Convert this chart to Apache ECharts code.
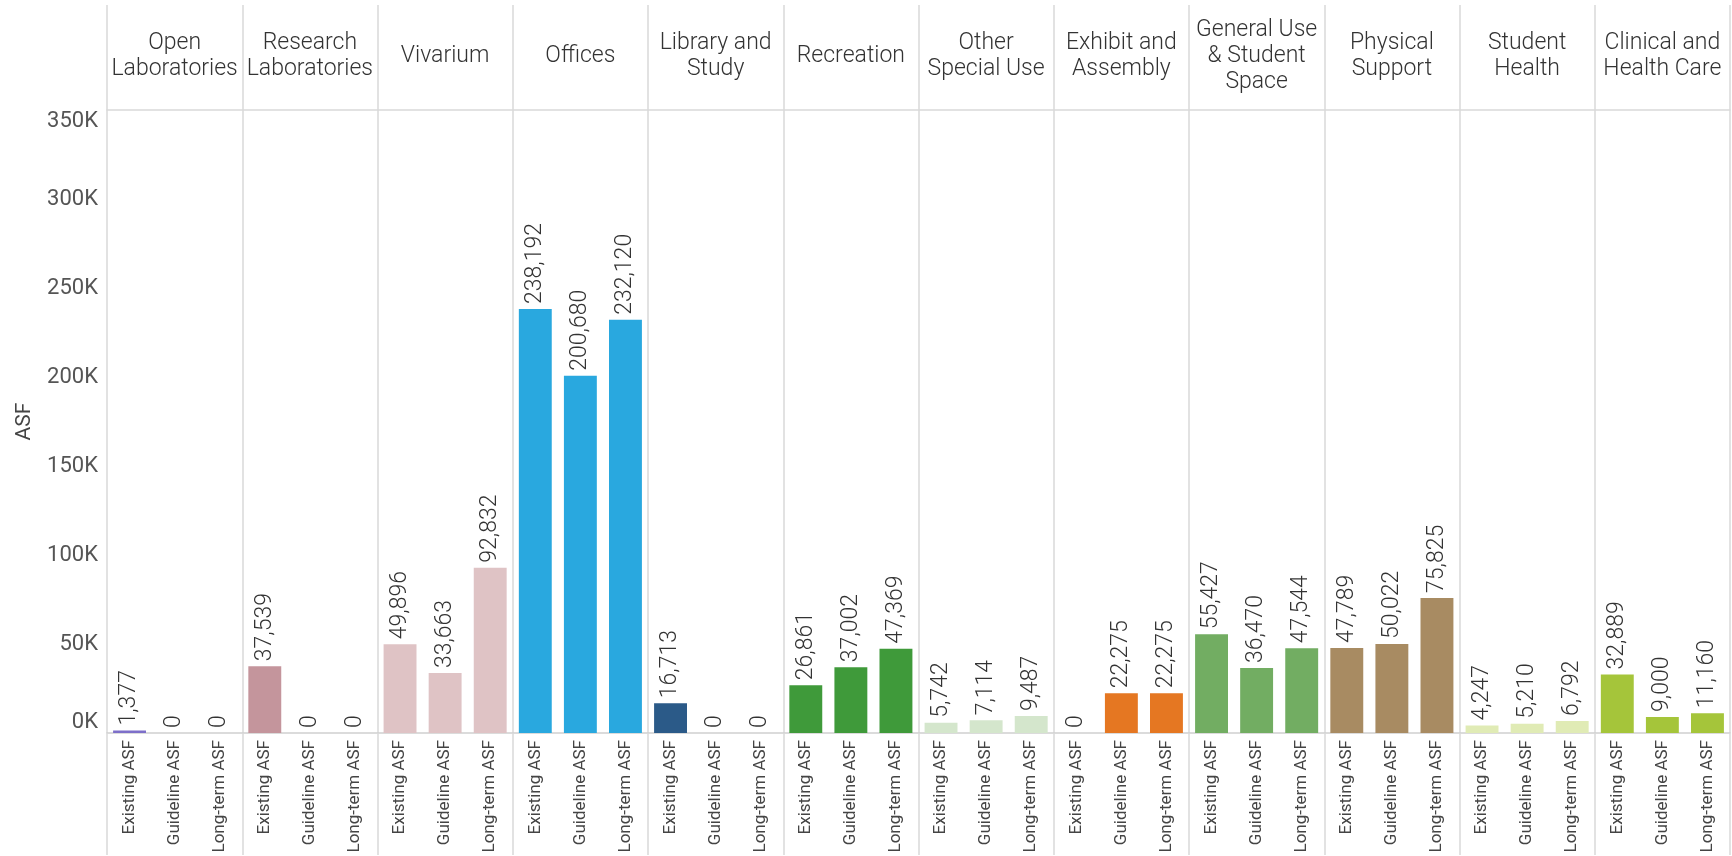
<!DOCTYPE html>
<html>
<head>
<meta charset="utf-8">
<script src="https://cdn.jsdelivr.net/npm/echarts@6/dist/echarts.min.js"></script>
<style>
html,body{margin:0;padding:0;background:#fff;}
#chart{width:1732px;height:856px;}
</style>
</head>
<body>
<div id="chart"></div>
<script>
const groups = ['Open\nLaboratories','Research\nLaboratories','Vivarium','Offices','Library and\nStudy','Recreation','Other\nSpecial Use','Exhibit and\nAssembly','General Use\n& Student\nSpace','Physical\nSupport','Student\nHealth','Clinical and\nHealth Care'];
const measures = ['Existing ASF','Guideline ASF','Long-term ASF'];
const existing  = [1377, 37539, 49896, 238192, 16713, 26861, 5742, 0, 55427, 47789, 4247, 32889];
const guideline = [0, 0, 33663, 200680, 0, 37002, 7114, 22275, 36470, 50022, 5210, 9000];
const longterm  = [0, 0, 92832, 232120, 0, 47369, 9487, 22275, 47544, 75825, 6792, 11160];
const groupColors = ['#7d6fc9','#c4959c','#dfc3c5','#29a8df','#2b5a88','#3f9a3a','#d4e6cc','#e57722','#72ad62','#a88b62','#e0ebb5','#a5c53a'];
const yTicks = {min: 0, max: 350000, interval: 50000};

const xLabels = [];
const values = [];
groups.forEach((g, i) => {
  [existing, guideline, longterm].forEach((arr, j) => {
    xLabels.push(measures[j]);
    values.push({value: arr[i], itemStyle: {color: groupColors[i]}});
  });
});

const lineColor = '#d9d9d9';
const font = 'Roboto';

const chart = echarts.init(document.getElementById('chart'));
chart.setOption({
  backgroundColor: '#fff',
  animation: false,
  textStyle: {fontFamily: font},
  grid: [
    {left: 107, right: 2, top: 5, height: 105},
    {left: 107, right: 2, top: 110, height: 623}
  ],
  xAxis: [
    {
      gridIndex: 0, type: 'category', data: groups, position: 'bottom',
      axisLine: {show: true, lineStyle: {color: lineColor, width: 1.5}},
      axisTick: {show: false},
      splitLine: {show: true, interval: 0, lineStyle: {color: lineColor, width: 1.5}},
      axisLabel: {interval: 0, margin: -54, verticalAlign: 'middle', fontSize: 23, fontWeight: 300, lineHeight: 26, color: '#333', fontFamily: font}
    },
    {
      gridIndex: 1, type: 'category', data: xLabels, position: 'bottom',
      axisLine: {show: true, lineStyle: {color: '#cfcfcf', width: 1.5}},
      axisTick: {show: false},
      axisLabel: {interval: 0, rotate: 90, margin: 7, fontSize: 17, color: '#444', fontFamily: font}
    },
    {
      gridIndex: 1, type: 'category', data: groups, position: 'bottom',
      axisLine: {show: false},
      axisTick: {show: true, interval: 0, length: 122, lineStyle: {color: lineColor, width: 1.5}},
      axisLabel: {show: false},
      splitLine: {show: true, interval: 0, lineStyle: {color: lineColor, width: 1.5}}
    }
  ],
  yAxis: [
    {gridIndex: 0, type: 'value', show: false, min: 0, max: 1},
    {
      gridIndex: 1, type: 'value', min: yTicks.min, max: yTicks.max, interval: yTicks.interval,
      name: 'ASF', nameLocation: 'middle', nameGap: 72,
      nameTextStyle: {fontSize: 21, color: '#444', fontFamily: font},
      axisLine: {show: false}, axisTick: {show: false}, splitLine: {show: false},
      axisLabel: {
        fontSize: 22, color: '#555', margin: 9, fontFamily: font,
        verticalAlignMinLabel: 'bottom', verticalAlignMaxLabel: 'top',
        formatter: v => (v / 1000) + 'K'
      }
    }
  ],
  series: [{
    type: 'bar', xAxisIndex: 1, yAxisIndex: 1,
    data: values, barWidth: '73%',
    label: {
      show: true, position: 'top', rotate: 90, align: 'left', verticalAlign: 'middle',
      distance: 5, fontSize: 23, fontWeight: 300, color: '#333', fontFamily: font,
      formatter: p => p.value.toLocaleString('en-US')
    }
  }]
});
</script>
</body>
</html>
